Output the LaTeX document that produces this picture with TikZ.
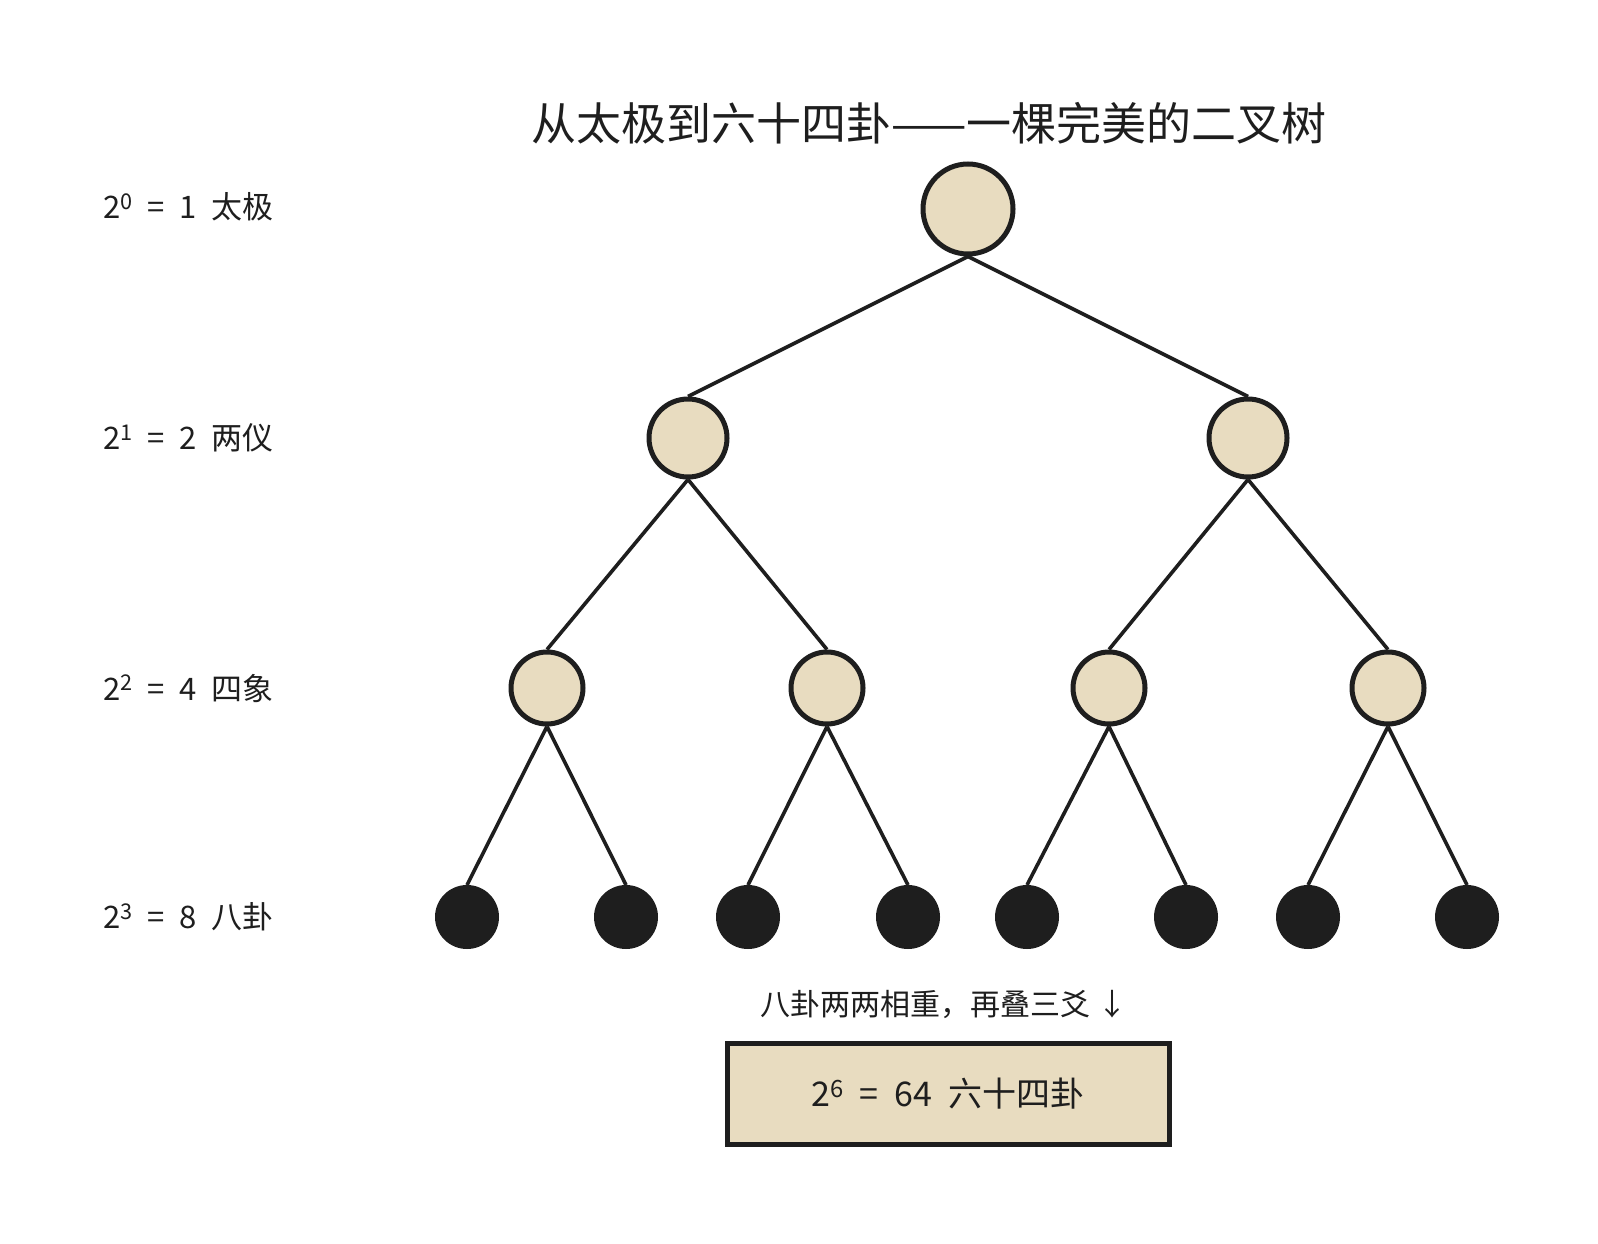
\documentclass[tikz,border=0pt]{standalone}
\usepackage{fontspec}
\setmainfont{Noto Sans CJK SC}
\newfontfamily\widefont[WordSpace=2.1]{Noto Sans CJK SC}
\usetikzlibrary{positioning}
\definecolor{ink}{HTML}{1E1E1E}
\definecolor{sand}{HTML}{E8DCC0}

\begin{document}
\begin{tikzpicture}[x=1pt, y=-1pt,
	yao/.style={circle, draw=ink, fill=sand, line width=5pt, inner sep=0pt},
	gua/.style={circle, draw=ink, fill=ink, line width=2pt, inner sep=0pt, minimum size=62pt},
	branch/.style={ink, line width=3.6pt},
	level/.style={anchor=west, font=\widefont\fontsize{31}{36}\selectfont, ink}]
	\useasboundingbox (0,0) rectangle (1598,1244);
	% title
	\node[font=\fontsize{45}{52}\selectfont, ink] (title) at (929,123) {从太极到六十四卦——一棵完美的二叉树};
	% levels
	\node[level] (l0) at (100,207) {2\textsuperscript{0} = 1 太极};
	\node[level] (l1) at (100,438) {2\textsuperscript{1} = 2 两仪};
	\node[level] (l2) at (100,688) {2\textsuperscript{2} = 4 四象};
	\node[level] (l3) at (100,917) {2\textsuperscript{3} = 8 八卦};
	% tree
	\node[yao, minimum size=90pt] (taiji) at (968,209) {};
	\node[yao, minimum size=78pt] (yiL) at (688,438) {};
	\node[yao, minimum size=78pt] (yiR) at (1248,438) {};
	\node[yao, minimum size=72pt] (xiangA) at (547,688) {};
	\node[yao, minimum size=72pt] (xiangB) at (827,688) {};
	\node[yao, minimum size=72pt] (xiangC) at (1109,688) {};
	\node[yao, minimum size=72pt] (xiangD) at (1388,688) {};
	\node[gua] (guaA) at (467,917) {};
	\node[gua] (guaB) at (626,917) {};
	\node[gua] (guaC) at (748,917) {};
	\node[gua] (guaD) at (908,917) {};
	\node[gua] (guaE) at (1027,917) {};
	\node[gua] (guaF) at (1186,917) {};
	\node[gua] (guaG) at (1308,917) {};
	\node[gua] (guaH) at (1467,917) {};
	\draw[branch] (taiji.south) -- (yiL.north);
	\draw[branch] (taiji.south) -- (yiR.north);
	\draw[branch] (yiL.south) -- (xiangA.north);
	\draw[branch] (yiL.south) -- (xiangB.north);
	\draw[branch] (yiR.south) -- (xiangC.north);
	\draw[branch] (yiR.south) -- (xiangD.north);
	\draw[branch] (xiangA.south) -- (guaA.north);
	\draw[branch] (xiangA.south) -- (guaB.north);
	\draw[branch] (xiangB.south) -- (guaC.north);
	\draw[branch] (xiangB.south) -- (guaD.north);
	\draw[branch] (xiangC.south) -- (guaE.north);
	\draw[branch] (xiangC.south) -- (guaF.north);
	\draw[branch] (xiangD.south) -- (guaG.north);
	\draw[branch] (xiangD.south) -- (guaH.north);
	% sixty-four
	\node[font=\fontsize{30}{34}\selectfont, ink] (note) at (944,1004) {八卦两两相重，再叠三爻 ↓};
	\node[draw=ink, fill=sand, line width=5pt, minimum width=442pt, minimum height=101pt,
		font=\widefont\fontsize{34}{40}\selectfont, text=ink] (liushisi) at (948,1094) {2\textsuperscript{6} = 64 六十四卦};
\end{tikzpicture}
\end{document}
